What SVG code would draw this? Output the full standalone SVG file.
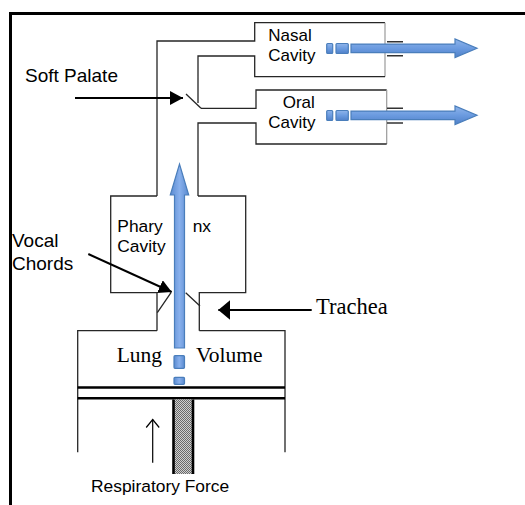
<svg xmlns="http://www.w3.org/2000/svg" width="525" height="505" viewBox="0 0 525 505">
<style>
.wall{fill:none;stroke:#262626;stroke-width:1.3}
.edge{fill:none;stroke:#9a9a9a;stroke-width:1.2}
.stub{fill:none;stroke:#333;stroke-width:1.5}
.sans{font-family:"Liberation Sans",Arial,sans-serif;fill:#000}
.serif{font-family:"Liberation Serif","Times New Roman",serif;fill:#000}
.blk{fill:none;stroke:#000;stroke-width:2}
.flowh{fill:url(#gh);stroke:#4a7ebb;stroke-width:1.2}
.flowv{fill:url(#gv);stroke:#4a7ebb;stroke-width:1.2}
</style>
<defs>
<linearGradient id="gh" x1="0" y1="0" x2="0" y2="1">
<stop offset="0" stop-color="#8fb4ea"/><stop offset="0.5" stop-color="#6b9be0"/><stop offset="1" stop-color="#4f80c8"/>
</linearGradient>
<linearGradient id="gv" x1="0" y1="0" x2="1" y2="0">
<stop offset="0" stop-color="#5a8ad0"/><stop offset="0.5" stop-color="#88b0ec"/><stop offset="1" stop-color="#5a8ad0"/>
</linearGradient>
<pattern id="dots" width="2" height="2" patternUnits="userSpaceOnUse">
<rect width="2" height="2" fill="#d0d0d0"/><rect width="1" height="1" fill="#6a6a6a"/><rect x="1" y="1" width="1" height="1" fill="#6a6a6a"/>
</pattern>
<marker id="headA" markerUnits="userSpaceOnUse" markerWidth="14" markerHeight="16" refX="13" refY="7" orient="auto">
<path d="M0,0 L13,7 L0,14 Z" fill="#000"/>
</marker>
<marker id="headB" markerUnits="userSpaceOnUse" markerWidth="14" markerHeight="22" refX="12" refY="10" orient="auto">
<path d="M0,0 L12,10 L0,20 Z" fill="#000"/>
</marker>
<marker id="headOpen" markerUnits="userSpaceOnUse" markerWidth="16" markerHeight="16" refX="8" refY="8" orient="auto">
<path d="M0,1.5 L8,8 L0,14.5" fill="none" stroke="#000" stroke-width="1.2"/>
</marker>
</defs>
<rect width="525" height="505" fill="#fff"/>
<g id="frame">
<path d="M10.5,505 V13.5 H525" fill="none" stroke="#000" stroke-width="3"/>
</g>
<g id="nasal-cavity">
<path class="wall" d="M157,196 V41 H254.7 V22.7 H385"/>
<path class="edge" d="M385,22.7 V76.7"/>
<path class="wall" d="M385,76.7 H254.7 V56 H198 V103"/>
<path class="stub" d="M387,41.7 H403 M387,55.7 H403"/>
<text class="sans" x="268.3" y="40.7" font-size="17">Nasal</text>
<text class="sans" x="268.3" y="61" font-size="17">Cavity</text>
</g>
<g id="soft-palate">
<path class="wall" d="M186,94 L201,108.3"/>
<text class="sans" x="25" y="81.7" font-size="19">Soft Palate</text>
</g>
<g id="oral-cavity">
<path class="wall" d="M201,108.3 H256 V90 H386.7"/>
<path class="edge" d="M386.7,90 V144"/>
<path class="wall" d="M386.7,144 H256 V123 H198 V196"/>
<path class="stub" d="M387,108.3 H403 M387,123 H403"/>
<text class="sans" x="282.7" y="108.3" font-size="17">Oral</text>
<text class="sans" x="268.3" y="128.3" font-size="17">Cavity</text>
</g>
<g id="pharynx">
<path class="wall" d="M157,196 H110.7 V292.7 H157 V330.7"/>
<path class="wall" d="M198,196 H245.7 V292.7 H199.3 V330.7"/>
<path class="wall" d="M157.3,312.7 L171,292.7 M185.7,292.7 L200,306"/>
<text class="sans" x="117.3" y="232.3" font-size="17.4">Phary</text>
<text class="sans" x="192.7" y="232.3" font-size="17.4">nx</text>
<text class="sans" x="117.3" y="251.7" font-size="17.4">Cavity</text>
</g>
<g id="vocal-chords">
<text class="sans" x="12" y="247.3" font-size="19">Vocal</text>
<text class="sans" x="12" y="270" font-size="19">Chords</text>
</g>
<g id="trachea">
<text class="serif" x="316" y="314" font-size="22.5">Trachea</text>
</g>
<g id="lung">
<path class="wall" d="M77.7,452.3 V330.7 H157 M199.3,330.7 H285 V452.3"/>
<path d="M77.7,387.5 H285 M77.7,398.3 H285" fill="none" stroke="#000" stroke-width="2.5"/>
<text class="serif" x="116.7" y="361.7" font-size="21.5">Lung</text>
<text class="serif" x="196" y="361.7" font-size="21.5">Volume</text>
</g>
<g id="piston">
<rect x="173" y="399.5" width="20.5" height="74.5" fill="url(#dots)"/>
<path d="M173.5,399.5 V474 M193,399.5 V474" fill="none" stroke="#000" stroke-width="2.6"/>
<text class="sans" x="91" y="491.7" font-size="17.4">Respiratory Force</text>
</g>
<g id="connectors">
<line class="blk" x1="75" y1="98" x2="183" y2="98" marker-end="url(#headA)"/>
<line class="blk" x1="88.3" y1="254" x2="171.7" y2="292" marker-end="url(#headA)"/>
<line class="blk" x1="311.7" y1="310" x2="218.3" y2="310" marker-end="url(#headB)"/>
<line x1="152.7" y1="462.7" x2="152.7" y2="419.5" stroke="#000" stroke-width="1.2" marker-end="url(#headOpen)"/>
<g id="flow-nasal">
<rect class="flowh" x="326.7" y="43.5" width="6" height="10" rx="1"/>
<rect class="flowh" x="336" y="43.5" width="12.3" height="10" rx="1"/>
<path class="flowh" d="M351,44.1 H455 V39 L477,48.3 L455,57.5 V52.6 H351 Z"/>
</g>
<g id="flow-oral" transform="translate(0,67)">
<rect class="flowh" x="326.7" y="43.5" width="6" height="10" rx="1"/>
<rect class="flowh" x="336" y="43.5" width="12.3" height="10" rx="1"/>
<path class="flowh" d="M351,44.1 H455 V39 L477,48.3 L455,57.5 V52.6 H351 Z"/>
</g>
<g id="flow-up">
<path class="flowv" d="M174.5,348 V195 H170.3 L179.5,164 L188.7,195 H184.5 V348 Z"/>
<rect class="flowv" x="174" y="355.7" width="10.5" height="12.6" rx="1"/>
<rect class="flowv" x="174" y="377.3" width="10.5" height="7" rx="1"/>
</g>
</g>
</svg>
